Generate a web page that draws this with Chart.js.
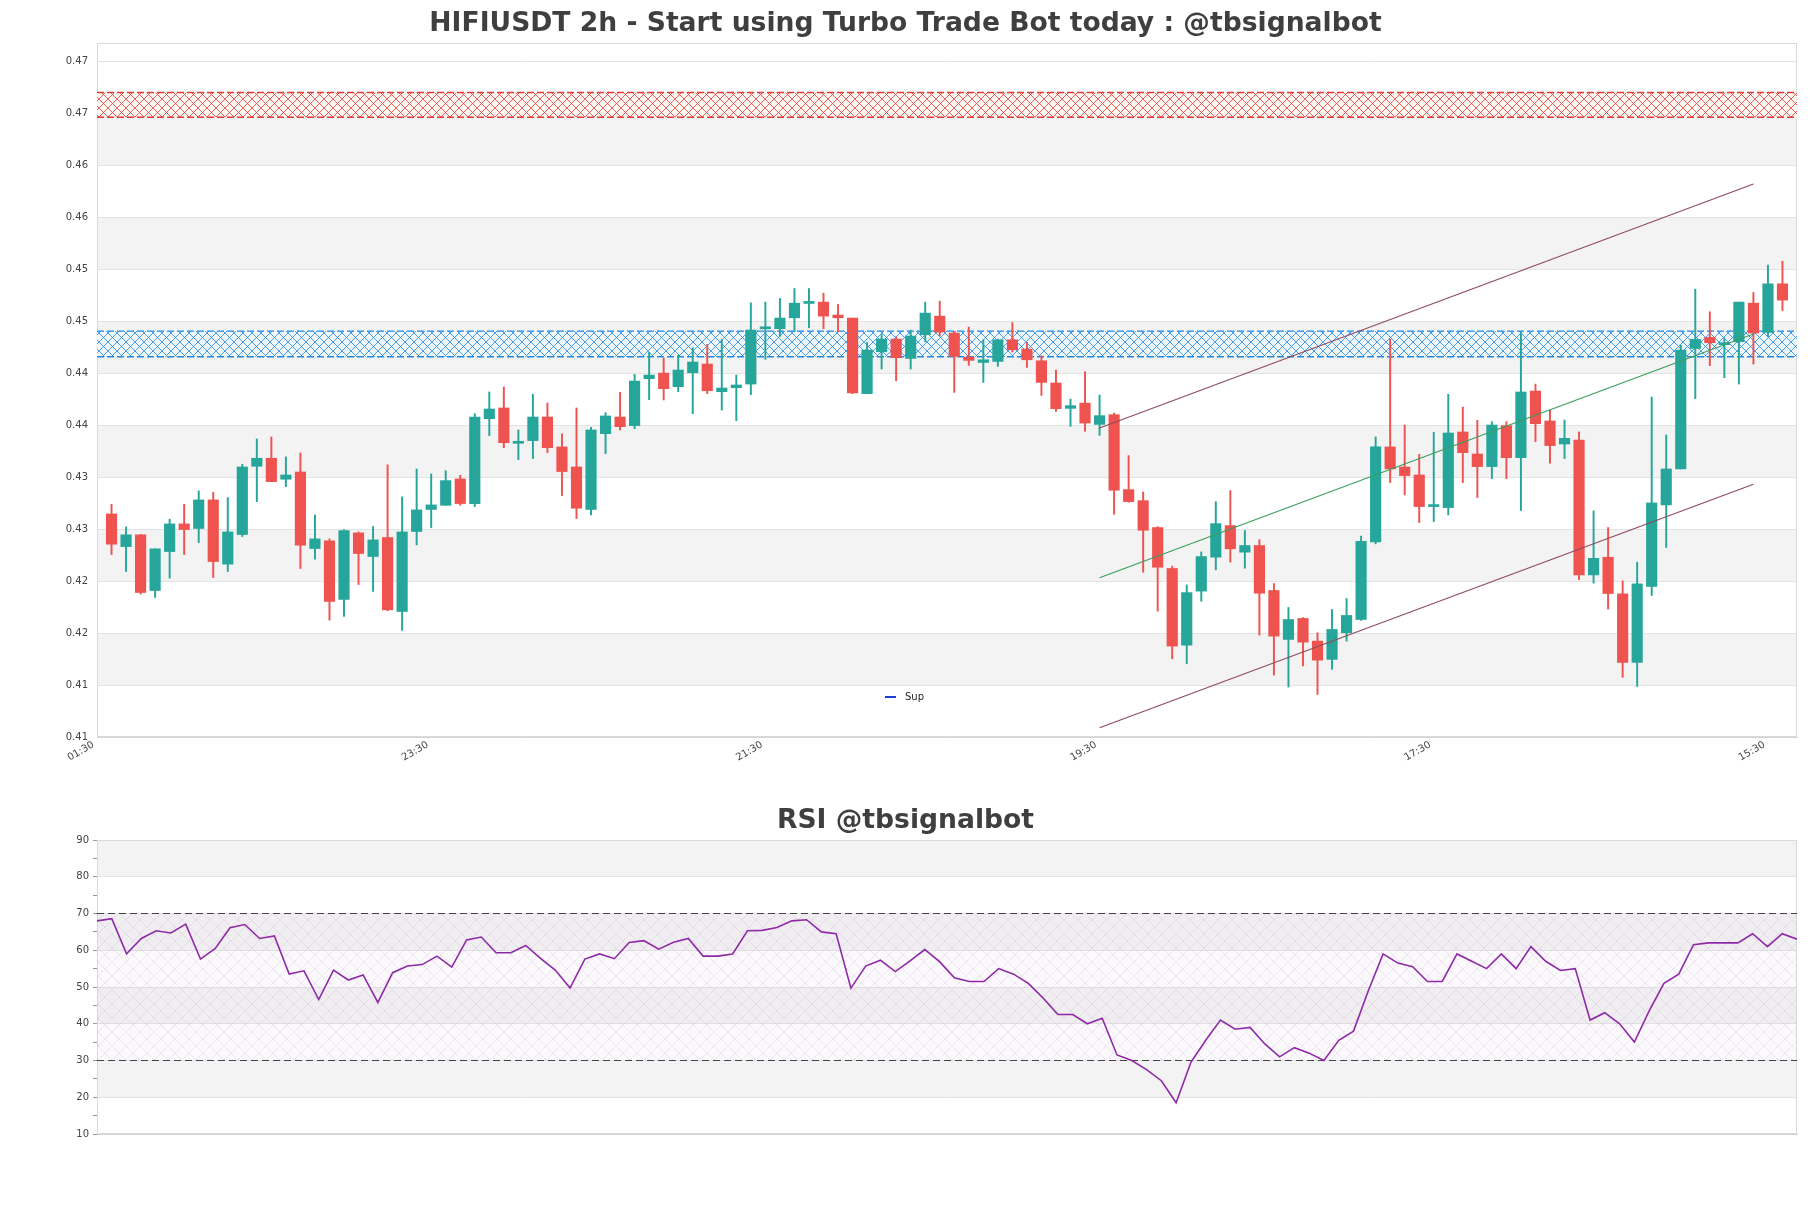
<!DOCTYPE html>
<html><head><meta charset="utf-8">
<script src="https://cdn.jsdelivr.net/npm/chart.js@4.4.1/dist/chart.umd.min.js"></script>
<style>
html,body{margin:0;padding:0;background:#fff;width:1811px;height:1208px;overflow:hidden}
#c1{position:absolute;left:0;top:0}
#c2{position:absolute;left:0;top:780px}
</style></head><body>
<canvas id="c1" width="1811" height="780"></canvas>
<canvas id="c2" width="1811" height="428"></canvas>
<script>
const mainTitle = 'HIFIUSDT 2h - Start using Turbo Trade Bot today : @tbsignalbot';
const rsiTitle = 'RSI @tbsignalbot';
const legendLabel = 'Sup';

const opens = [0.42897,0.42583,0.42696,0.42160,0.42535,0.42801,0.42757,0.43032,0.42414,0.42699,
0.43356,0.43433,0.43231,0.43301,0.42564,0.42638,0.42074,0.42715,0.42487,0.42670,
0.41958,0.42728,0.42940,0.42980,0.43234,0.42997,0.43814,0.43917,0.43577,0.43603,
0.43830,0.43542,0.43349,0.42940,0.43670,0.43830,0.43747,0.44199,0.44253,0.44122,
0.44256,0.44340,0.44074,0.44112,0.44147,0.44679,0.44680,0.44785,0.44923,0.44936,
0.44811,0.44782,0.44055,0.44458,0.44580,0.44394,0.44622,0.44801,0.44638,0.44407,
0.44355,0.44365,0.44573,0.44484,0.44371,0.44157,0.43913,0.43964,0.43759,0.43852,
0.43131,0.43025,0.42766,0.42372,0.41634,0.42154,0.42481,0.42785,0.42529,0.42593,
0.42160,0.41689,0.41891,0.41673,0.41497,0.41753,0.41881,0.42628,0.43542,0.43349,
0.43272,0.42968,0.42958,0.43686,0.43474,0.43353,0.43747,0.43439,0.44080,0.43792,
0.43570,0.43609,0.42310,0.42480,0.42128,0.41468,0.42199,0.42984,0.43330,0.44490,
0.44596,0.44526,0.44554,0.44926,0.44644,0.45112];
const highs = [0.42990,0.42772,0.42700,0.42561,0.42846,0.42990,0.43119,0.43106,0.43055,0.43375,
0.43619,0.43638,0.43446,0.43484,0.42888,0.42657,0.42744,0.42724,0.42776,0.43370,
0.43061,0.43330,0.43282,0.43314,0.43269,0.43862,0.44071,0.44119,0.43705,0.44048,
0.43965,0.43667,0.43917,0.43730,0.43872,0.44067,0.44240,0.44452,0.44397,0.44426,
0.44497,0.44529,0.44577,0.44234,0.44929,0.44936,0.44971,0.45067,0.45067,0.45022,
0.44913,0.44782,0.44548,0.44625,0.44603,0.44667,0.44936,0.44945,0.44654,0.44695,
0.44573,0.44580,0.44740,0.44548,0.44420,0.44282,0.44003,0.44266,0.44041,0.43868,
0.43458,0.43109,0.42775,0.42394,0.42214,0.42532,0.43016,0.43122,0.42737,0.42650,
0.42227,0.41997,0.41900,0.41753,0.41977,0.42083,0.42684,0.43638,0.44580,0.43753,
0.43471,0.43683,0.44048,0.43926,0.43798,0.43785,0.43785,0.44651,0.44147,0.43894,
0.43801,0.43686,0.42926,0.42766,0.42253,0.42433,0.44022,0.43657,0.44522,0.45061,
0.44843,0.44593,0.44936,0.45029,0.45292,0.45330];
const lows = [0.42506,0.42343,0.42125,0.42093,0.42279,0.42506,0.42622,0.42285,0.42343,0.42680,
0.43016,0.43208,0.43160,0.42372,0.42462,0.41875,0.41910,0.42218,0.42151,0.41965,
0.41776,0.42599,0.42766,0.42980,0.42980,0.42968,0.43651,0.43535,0.43420,0.43430,
0.43487,0.43074,0.42853,0.42888,0.43478,0.43705,0.43718,0.43997,0.43994,0.44074,
0.43862,0.44055,0.43897,0.43795,0.44045,0.44385,0.44606,0.44651,0.44689,0.44680,
0.44651,0.44055,0.44055,0.44292,0.44179,0.44292,0.44554,0.44610,0.44067,0.44327,
0.44163,0.44317,0.44455,0.44307,0.44038,0.43884,0.43740,0.43692,0.43654,0.42894,
0.43010,0.42336,0.41961,0.41503,0.41455,0.42057,0.42359,0.42433,0.42375,0.41731,
0.41346,0.41231,0.41433,0.41160,0.41401,0.41673,0.41872,0.42609,0.43199,0.43080,
0.42814,0.42824,0.42888,0.43199,0.43055,0.43237,0.43237,0.42930,0.43593,0.43385,
0.43430,0.42263,0.42231,0.41981,0.41324,0.41237,0.42112,0.42574,0.43330,0.44006,
0.44324,0.44208,0.44147,0.44340,0.44603,0.44853];
const closes = [0.42606,0.42696,0.42141,0.42561,0.42801,0.42747,0.43032,0.42439,0.42724,0.43349,
0.43433,0.43208,0.43272,0.42596,0.42657,0.42055,0.42737,0.42516,0.42647,0.41974,
0.42724,0.42936,0.42984,0.43218,0.42997,0.43830,0.43907,0.43583,0.43596,0.43830,
0.43535,0.43305,0.42952,0.43705,0.43840,0.43737,0.44176,0.44234,0.44103,0.44282,
0.44359,0.44083,0.44109,0.44138,0.44667,0.44686,0.44782,0.44926,0.44936,0.44801,
0.44785,0.44061,0.44474,0.44580,0.44401,0.44609,0.44830,0.44647,0.44413,0.44375,
0.44381,0.44573,0.44477,0.44381,0.44163,0.43910,0.43939,0.43772,0.43843,0.43125,
0.43016,0.42740,0.42384,0.41625,0.42140,0.42487,0.42804,0.42561,0.42593,0.42134,
0.41721,0.41881,0.41663,0.41490,0.41785,0.41920,0.42633,0.43542,0.43330,0.43266,
0.42968,0.42974,0.43676,0.43487,0.43353,0.43753,0.43439,0.44071,0.43766,0.43555,
0.43625,0.42310,0.42470,0.42131,0.41468,0.42224,0.43003,0.43330,0.44474,0.44577,
0.44545,0.44545,0.44936,0.44638,0.45112,0.44955];

const rsiValues = [68.0,68.6,59.0,63.2,65.3,64.7,67.1,57.6,60.5,66.1,
67.0,63.2,63.9,53.5,54.4,46.6,54.6,51.9,53.3,45.8,
53.9,55.7,56.1,58.4,55.4,62.8,63.6,59.3,59.3,61.3,
57.8,54.6,49.7,57.6,59.0,57.7,62.1,62.6,60.3,62.2,
63.2,58.4,58.4,59.0,65.3,65.4,66.2,68.0,68.3,65.0,
64.5,49.7,55.7,57.3,54.2,57.1,60.2,56.9,52.5,51.5,
51.5,55.0,53.5,51.0,47.0,42.5,42.5,40.0,41.5,31.5,
30.0,27.5,24.5,18.5,29.5,35.5,41.0,38.5,39.0,34.5,
31.0,33.5,32.0,30.0,35.5,38.0,49.0,59.0,56.5,55.5,
51.5,51.5,59.0,57.0,55.0,59.0,55.0,61.0,57.0,54.5,
55.0,41.0,43.0,40.0,35.0,43.5,51.0,53.5,61.5,62.0,
62.0,62.0,64.5,61.0,64.5,63.0];

const xTickIdx = [-1, 22, 45, 68, 91, 114];
const xTickLabels = ['01:30','23:30','21:30','19:30','17:30','15:30'];
const yTickVals = [0.4075,0.4125,0.4175,0.4225,0.4275,0.4325,0.4375,0.4425,0.4475,0.4525,0.4575,0.4625,0.4675,0.4725];
const yTickLabels = ['0.41','0.41','0.42','0.42','0.43','0.43','0.44','0.44','0.45','0.45','0.46','0.46','0.47','0.47'];
const yRange = [0.4075, 0.4743];
const resistZone = [0.46716, 0.46953];
const supportZone = [0.44410, 0.44657];
const channelX = [68, 113];
const upperLine = [0.43724, 0.46073];
const midLine = [0.42282, 0.44628];
const lowerLine = [0.40840, 0.43183];
const rsiTickVals = [10,15,20,25,30,35,40,45,50,55,60,65,70,75,80,85,90];
const rsiBands = [[20,30],[40,50],[60,70],[80,90]];
const rsiLevels = [30, 70];

const UP = '#26a69a', DOWN = '#ef5350';
const FONT = 'DejaVu Sans';

function makeHatch(ctx, color, size, lw) {
  const c = document.createElement('canvas');
  c.width = size; c.height = size;
  const x = c.getContext('2d');
  x.strokeStyle = color; x.lineWidth = lw;
  x.beginPath();
  x.moveTo(0, 0); x.lineTo(size, size);
  x.moveTo(size, 0); x.lineTo(0, size);
  x.stroke();
  return ctx.createPattern(c, 'repeat');
}

const candleColors = closes.map((c, i) => c >= opens[i] ? UP : DOWN);
const bodyData = opens.map((o, i) => ({x: i, y: [o, closes[i]]}));
const wickData = lows.map((l, i) => ({x: i, y: [l, highs[i]]}));

const titlePlugin = {
  id: 'ttl',
  afterDraw(chart, args, o) {
    const ctx = chart.ctx;
    ctx.save();
    ctx.font = 'bold 26.6px "' + FONT + '"';
    ctx.fillStyle = '#3f3f3f';
    ctx.textAlign = 'center';
    ctx.textBaseline = 'middle';
    ctx.fillText(o.text, chart.width / 2, o.y);
    ctx.restore();
  }
};

const mainDeco = {
  id: 'mainDeco',
  beforeDraw(chart) {
    const {ctx, chartArea: a} = chart; const y = chart.scales.y;
    ctx.save();
    ctx.fillStyle = '#f3f3f3';
    for (let i = 1; i + 1 < yTickVals.length; i += 2) {
      const t = y.getPixelForValue(yTickVals[i + 1]), b = y.getPixelForValue(yTickVals[i]);
      ctx.fillRect(a.left, t, a.right - a.left, b - t);
    }
    ctx.restore();
  },
  beforeDatasetsDraw(chart) {
    const {ctx, chartArea: a} = chart; const y = chart.scales.y;
    ctx.save();
    ctx.strokeStyle = '#dadada'; ctx.lineWidth = 1;
    ctx.strokeRect(a.left + 0.5, a.top + 0.5, a.right - a.left - 1, a.bottom - a.top - 1);
    const zones = [[resistZone, '#e53935', 'rgba(255,246,240,0.85)'], [supportZone, '#1e88e5', 'rgba(238,248,255,0.85)']];
    for (const [z, col, fill] of zones) {
      const t = y.getPixelForValue(z[1]), b = y.getPixelForValue(z[0]);
      ctx.fillStyle = fill;
      ctx.fillRect(a.left, t, a.right - a.left, b - t);
      ctx.fillStyle = makeHatch(ctx, col, 9, 0.8);
      ctx.fillRect(a.left, t, a.right - a.left, b - t);
      ctx.strokeStyle = col; ctx.lineWidth = 1.4; ctx.setLineDash([7, 3]);
      ctx.beginPath();
      ctx.moveTo(a.left, t); ctx.lineTo(a.right, t);
      ctx.moveTo(a.left, b); ctx.lineTo(a.right, b);
      ctx.stroke();
      ctx.setLineDash([]);
    }
    ctx.restore();
  },
  afterDraw(chart) {
    const {ctx, chartArea: a} = chart;
    ctx.save();
    const lx = a.left + 788, ly = a.bottom - 40;
    ctx.strokeStyle = '#1f3fd0'; ctx.lineWidth = 2;
    ctx.beginPath(); ctx.moveTo(lx, ly); ctx.lineTo(lx + 11, ly); ctx.stroke();
    ctx.fillStyle = '#222'; ctx.font = '10px "' + FONT + '"';
    ctx.textBaseline = 'middle'; ctx.textAlign = 'left';
    ctx.fillText(legendLabel, lx + 20, ly);
    ctx.restore();
  }
};

const lineDs = (vals, color) => ({
  type: 'line', data: channelX.map((x, i) => ({x, y: vals[i]})),
  borderColor: color, borderWidth: 1.1, pointRadius: 0, fill: false, tension: 0
});

new Chart(document.getElementById('c1'), {
  type: 'bar',
  data: {
    datasets: [
      lineDs(upperLine, '#8e4a5c'),
      lineDs(midLine, '#3a9d5d'),
      lineDs(lowerLine, '#8e4a5c'),
      {data: bodyData, backgroundColor: candleColors, barThickness: 10.5, grouped: false, minBarLength: 2, borderWidth: 0},
      {data: wickData, backgroundColor: candleColors, barThickness: 1.3, grouped: false, borderWidth: 0}
    ]
  },
  options: {
    responsive: false, animation: false, devicePixelRatio: 1,
    layout: {padding: {top: 43, right: 14, left: 0, bottom: 0}},
    plugins: {legend: {display: false}, tooltip: {enabled: false}, ttl: {text: mainTitle, y: 24.5}},
    scales: {
      x: {
        type: 'linear', min: -1, max: 116, offset: false,
        afterBuildTicks: s => { s.ticks = xTickIdx.map(v => ({value: v})); },
        afterFit: s => { s.height = 43; },
        ticks: {autoSkip: false, minRotation: 30, maxRotation: 30, padding: -6, labelOffset: -3.5, color: '#444',
                font: {family: FONT, size: 10}, callback: (v, i) => xTickLabels[i]},
        grid: {display: false, offset: false},
        border: {display: true, color: '#d4d4d4'}
      },
      y: {
        min: yRange[0], max: yRange[1],
        afterBuildTicks: s => { s.ticks = yTickVals.map(v => ({value: v})); },
        afterFit: s => { s.width = 97; },
        ticks: {padding: 9, color: '#444', font: {family: FONT, size: 10}, callback: (v, i) => yTickLabels[i]},
        grid: {color: '#e3e3e3', drawTicks: false},
        border: {display: true, color: '#d4d4d4'}
      }
    }
  },
  plugins: [mainDeco, titlePlugin]
});

const rsiDeco = {
  id: 'rsiDeco',
  beforeDraw(chart) {
    const {ctx, chartArea: a} = chart; const y = chart.scales.y;
    ctx.save();
    ctx.fillStyle = '#f3f3f3';
    for (const [lo, hi] of rsiBands) {
      const t = y.getPixelForValue(hi), b = y.getPixelForValue(lo);
      ctx.fillRect(a.left, t, a.right - a.left, b - t);
    }
    ctx.restore();
  },
  beforeDatasetsDraw(chart) {
    const {ctx, chartArea: a} = chart; const y = chart.scales.y;
    ctx.save();
    ctx.strokeStyle = '#dadada'; ctx.lineWidth = 1;
    ctx.strokeRect(a.left + 0.5, a.top + 0.5, a.right - a.left - 1, a.bottom - a.top - 1);
    const t = y.getPixelForValue(rsiLevels[1]), b = y.getPixelForValue(rsiLevels[0]);
    ctx.fillStyle = 'rgba(225,200,235,0.10)';
    ctx.fillRect(a.left, t, a.right - a.left, b - t);
    ctx.fillStyle = makeHatch(ctx, 'rgba(170,140,190,0.30)', 14, 0.6);
    ctx.fillRect(a.left, t, a.right - a.left, b - t);
    ctx.strokeStyle = '#444'; ctx.lineWidth = 1.2; ctx.setLineDash([7, 4]);
    ctx.beginPath();
    ctx.moveTo(a.left, t); ctx.lineTo(a.right, t);
    ctx.moveTo(a.left, b); ctx.lineTo(a.right, b);
    ctx.stroke();
    ctx.restore();
  }
};

new Chart(document.getElementById('c2'), {
  type: 'line',
  data: {datasets: [{data: rsiValues.map((v, i) => ({x: i, y: v})), borderColor: '#8e2aa6',
    borderWidth: 1.6, pointRadius: 0, tension: 0, fill: false}]},
  options: {
    responsive: false, animation: false, devicePixelRatio: 1,
    layout: {padding: {top: 60, right: 14, left: 0, bottom: 0}},
    plugins: {legend: {display: false}, tooltip: {enabled: false}, ttl: {text: rsiTitle, y: 41.5}},
    scales: {
      x: {type: 'linear', min: 0, max: rsiValues.length - 1, offset: false,
          afterFit: s => { s.height = 74; },
          ticks: {display: false}, grid: {display: false}, border: {display: true, color: '#d4d4d4'}},
      y: {min: 10, max: 90,
          afterBuildTicks: s => { s.ticks = rsiTickVals.map(v => ({value: v})); },
          afterFit: s => { s.width = 97; },
          ticks: {autoSkip: false, padding: 4, color: '#444', font: {family: FONT, size: 10},
                  callback: v => (v % 10 === 0 ? String(v) : '')},
          grid: {color: c => (c.tick && c.tick.value % 10 === 0 ? '#e3e3e3' : 'rgba(0,0,0,0)'),
                 tickColor: '#999', tickLength: 4, drawTicks: true},
          border: {display: true, color: '#d4d4d4'}}
    }
  },
  plugins: [rsiDeco, titlePlugin]
});
</script>
</body></html>
